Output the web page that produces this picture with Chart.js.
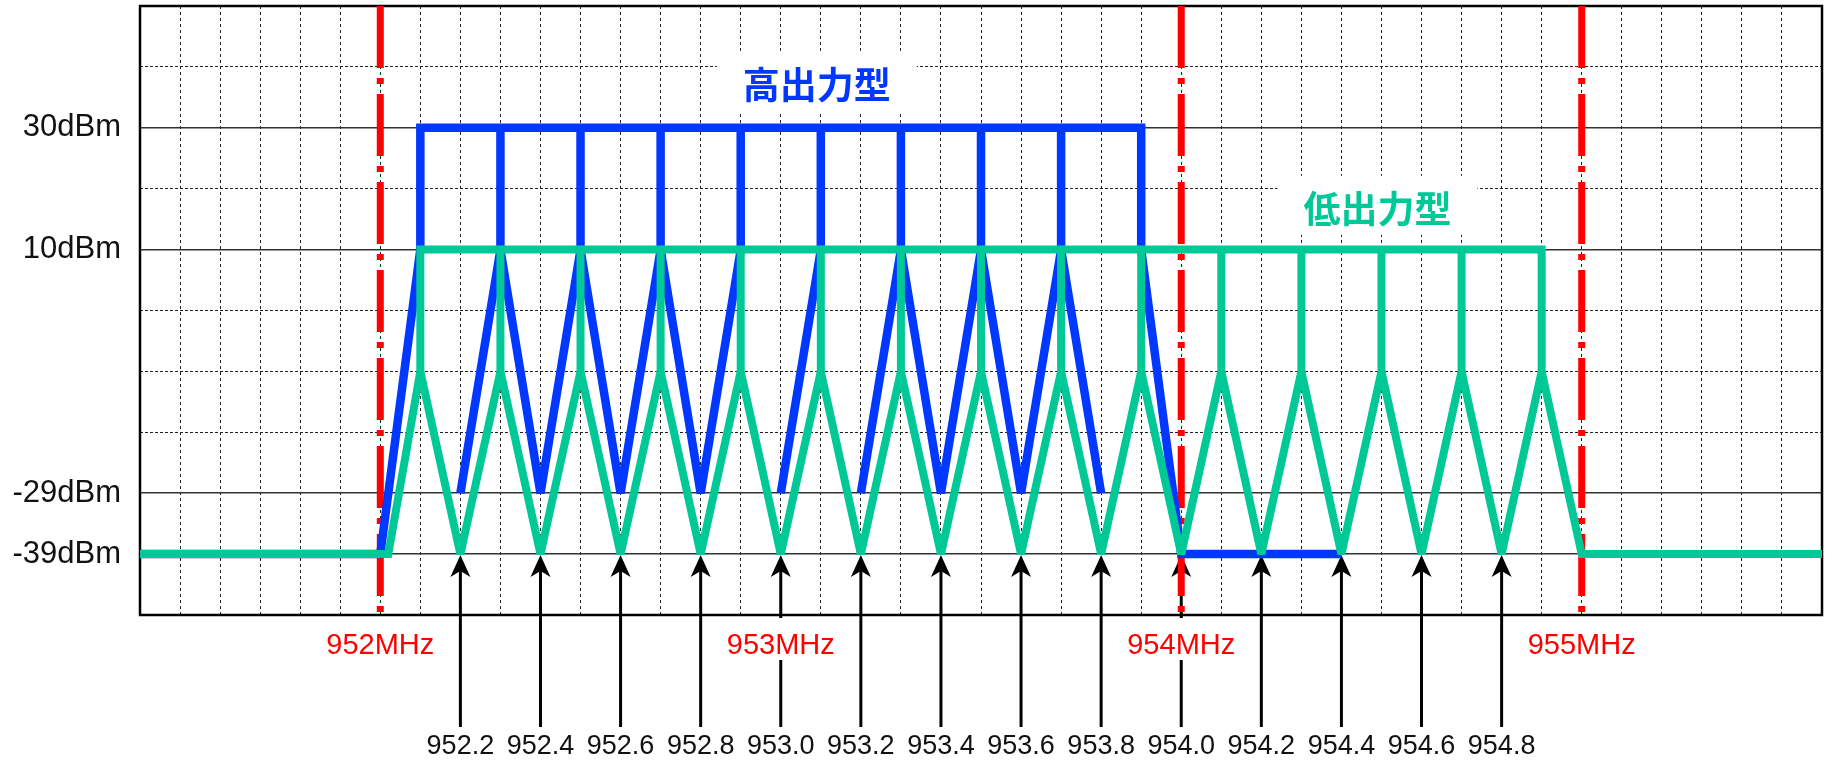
<!DOCTYPE html>
<html>
<head>
<meta charset="utf-8">
<script src="https://cdn.jsdelivr.net/npm/chart.js@4.4.1/dist/chart.umd.min.js"></script>
<style>
  html, body { margin: 0; padding: 0; background: #fff; }
  #wrap { width: 1837px; height: 761px; position: relative; }
</style>
</head>
<body>
<div id="wrap"><canvas id="mask"></canvas></div>
<script>
// x = frequency (MHz), y = step on the schematic level grid (0 = bottom edge, 10 = top edge)
const freqMin = 951.4;
const freqMax = 955.6;
const yTickLevels = [1, 2, 6, 8];
const yTickLabels = ['-39dBm', '-29dBm', '10dBm', '30dBm'];

const bandEdges = [952, 954, 955];
const mhzFreqs = [952, 953, 954, 955];
const mhzLabels = ['952MHz', '953MHz', '954MHz', '955MHz'];

const channels = ['952.2', '952.4', '952.6', '952.8', '953.0', '953.2', '953.4',
                  '953.6', '953.8', '954.0', '954.2', '954.4', '954.6', '954.8'];

// 高出力型
const highOutlineFreq = [951.4, 952.0, 952.1, 952.1, 953.9, 953.9, 954.0, 954.4];
const highOutlineLevel = [1, 1, 6, 8, 8, 6, 1, 1];
const highStemFreq = [952.3, 952.5, 952.7, 952.9, 953.1, 953.3, 953.5, 953.7];
const highStemLevel = [6, 8];
const highZigFreq = [
  [952.2, 952.3, 952.4, 952.5, 952.6, 952.7, 952.8, 952.9],
  [953.0, 953.1],
  [953.2, 953.3, 953.4, 953.5, 953.6, 953.7, 953.8]
];
const highZigLevel = [
  [2, 6, 2, 6, 2, 6, 2, 6],
  [2, 6],
  [2, 6, 2, 6, 2, 6, 2]
];

// 低出力型
const lowOutlineFreq = [951.4, 952.02, 952.1, 952.1, 954.9, 954.9, 955.0, 955.6];
const lowOutlineLevel = [1, 1, 4, 6, 6, 4, 1, 1];
const lowZigFreq = [952.1, 952.2, 952.3, 952.4, 952.5, 952.6, 952.7, 952.8, 952.9, 953.0,
                    953.1, 953.2, 953.3, 953.4, 953.5, 953.6, 953.7, 953.8, 953.9, 954.0,
                    954.1, 954.2, 954.3, 954.4, 954.5, 954.6, 954.7, 954.8, 954.9];
const lowZigLevel = [4, 1, 4, 1, 4, 1, 4, 1, 4, 1,
                     4, 1, 4, 1, 4, 1, 4, 1, 4, 1,
                     4, 1, 4, 1, 4, 1, 4, 1, 4];
const lowStemFreq = [952.3, 952.5, 952.7, 952.9, 953.1, 953.3, 953.5, 953.7,
                     953.9, 954.1, 954.3, 954.5, 954.7];
const lowStemLevel = [4, 6];

const highColor = '#0038FF';
const lowColor = '#00C896';
const edgeColor = '#FF0000';

function toPoints(fs, ls) {
  return fs.map((f, i) => ({ x: f, y: ls[i] }));
}
// join separate pieces into one dataset, broken by null points
function joinPieces(pieces) {
  const out = [];
  pieces.forEach((p, k) => {
    if (k) out.push({ x: p[0].x, y: null });
    out.push(...p);
  });
  return out;
}
function stems(fs, ls) {
  return joinPieces(fs.map(f => toPoints([f, f], ls)));
}

function lineSet(data, color, width, join) {
  return { data: data, borderColor: color, borderWidth: width, pointRadius: 0,
           borderJoinStyle: join || 'bevel', spanGaps: false, fill: false };
}

const datasets = [
  lineSet(toPoints(lowOutlineFreq, lowOutlineLevel), lowColor, 8, 'miter'),
  lineSet(toPoints(lowZigFreq, lowZigLevel), lowColor, 8),
  lineSet(stems(lowStemFreq, lowStemLevel), lowColor, 8),
  lineSet(toPoints(highOutlineFreq, highOutlineLevel), highColor, 8.5, 'miter'),
  lineSet(joinPieces(highZigFreq.map((f, i) => toPoints(f, highZigLevel[i]))), highColor, 8.5),
  lineSet(stems(highStemFreq, highStemLevel), highColor, 8.5),
  Object.assign(lineSet(stems(bandEdges, [10, 0]), edgeColor, 7),
                { borderDash: [62, 10, 6, 10], borderCapStyle: 'butt' })
];

const notes = [
  { text: '高出力型', color: highColor, freq: 953.09, level: 8.7 },
  { text: '低出力型', color: lowColor, freq: 954.49, level: 6.67 }
];

const decorations = {
  id: 'decorations',
  beforeDatasetsDraw(chart) {
    const { ctx, chartArea: a, scales: { x, y } } = chart;
    ctx.save();

    // label boxes inside the grid
    ctx.font = 'bold 37px "Noto Sans CJK JP", sans-serif';
    ctx.textAlign = 'center';
    ctx.textBaseline = 'middle';
    notes.forEach(n => {
      const cx = x.getPixelForValue(n.freq);
      const cy = y.getPixelForValue(n.level);
      ctx.fillStyle = '#fff';
      ctx.fillRect(cx - 100, cy - 33, 200, 59);
      ctx.fillStyle = n.color;
      ctx.fillText(n.text, cx, cy);
    });

    // frame
    ctx.strokeStyle = '#000';
    ctx.lineWidth = 2.5;
    ctx.strokeRect(a.left, a.top, a.right - a.left, a.bottom - a.top);

    // channel arrows
    const tipY = y.getPixelForValue(1) + 1;
    const baseY = a.bottom + 112;
    ctx.fillStyle = '#000';
    ctx.lineWidth = 3;
    channels.forEach(c => {
      const px = x.getPixelForValue(parseFloat(c));
      ctx.beginPath();
      ctx.moveTo(px, baseY);
      ctx.lineTo(px, tipY + 14);
      ctx.stroke();
      ctx.beginPath();
      ctx.moveTo(px, tipY);
      ctx.lineTo(px - 10, tipY + 22);
      ctx.lineTo(px, tipY + 16);
      ctx.lineTo(px + 10, tipY + 22);
      ctx.closePath();
      ctx.fill();
    });

    // MHz labels, with white backing over the arrows
    ctx.font = '29px "Liberation Sans", Arial, sans-serif';
    mhzFreqs.forEach((f, i) => {
      const px = x.getPixelForValue(f);
      const w = ctx.measureText(mhzLabels[i]).width;
      ctx.fillStyle = '#fff';
      ctx.fillRect(px - w / 2 - 3, a.bottom + 3, w + 6, 42);
      ctx.fillStyle = edgeColor;
      ctx.fillText(mhzLabels[i], px, a.bottom + 31);
    });

    // channel labels
    ctx.font = '27px "Liberation Sans", Arial, sans-serif';
    ctx.fillStyle = '#111';
    channels.forEach(c => {
      ctx.fillText(c, x.getPixelForValue(parseFloat(c)), a.bottom + 132);
    });
    ctx.restore();
  }
};

new Chart(document.getElementById('mask'), {
  type: 'line',
  data: { datasets: datasets },
  options: {
    responsive: true,
    maintainAspectRatio: false,
    animation: false,
    layout: { padding: { top: 6, right: 15, left: 0, bottom: 0 } },
    plugins: { legend: { display: false }, tooltip: { enabled: false } },
    scales: {
      x: {
        type: 'linear',
        min: freqMin,
        max: freqMax,
        ticks: { display: false, stepSize: 0.1 },
        grid: { color: '#222', lineWidth: 1, drawTicks: false },
        border: { display: false, dash: [3, 3] },
        afterFit: s => { s.height = 146; s.paddingLeft = 0; s.paddingRight = 0; }
      },
      y: {
        type: 'linear',
        min: 0,
        max: 10,
        ticks: {
          stepSize: 1,
          autoSkip: false,
          padding: 19,
          color: '#111',
          font: { family: '"Liberation Sans", Arial, sans-serif', size: 31 },
          callback: v => {
            const i = yTickLevels.indexOf(v);
            return i >= 0 ? yTickLabels[i] : '';
          }
        },
        grid: {
          drawTicks: false,
          color: c => yTickLevels.includes(c.tick && c.tick.value) ? '#333' : '#222',
          lineWidth: c => yTickLevels.includes(c.tick && c.tick.value) ? 1.6 : 1
        },
        border: {
          display: false,
          dash: c => yTickLevels.includes(c.tick && c.tick.value) ? [] : [3, 2]
        },
        afterFit: s => { s.width = 140; s.paddingTop = 0; s.paddingBottom = 0; }
      }
    }
  },
  plugins: [decorations]
});
</script>
</body>
</html>
